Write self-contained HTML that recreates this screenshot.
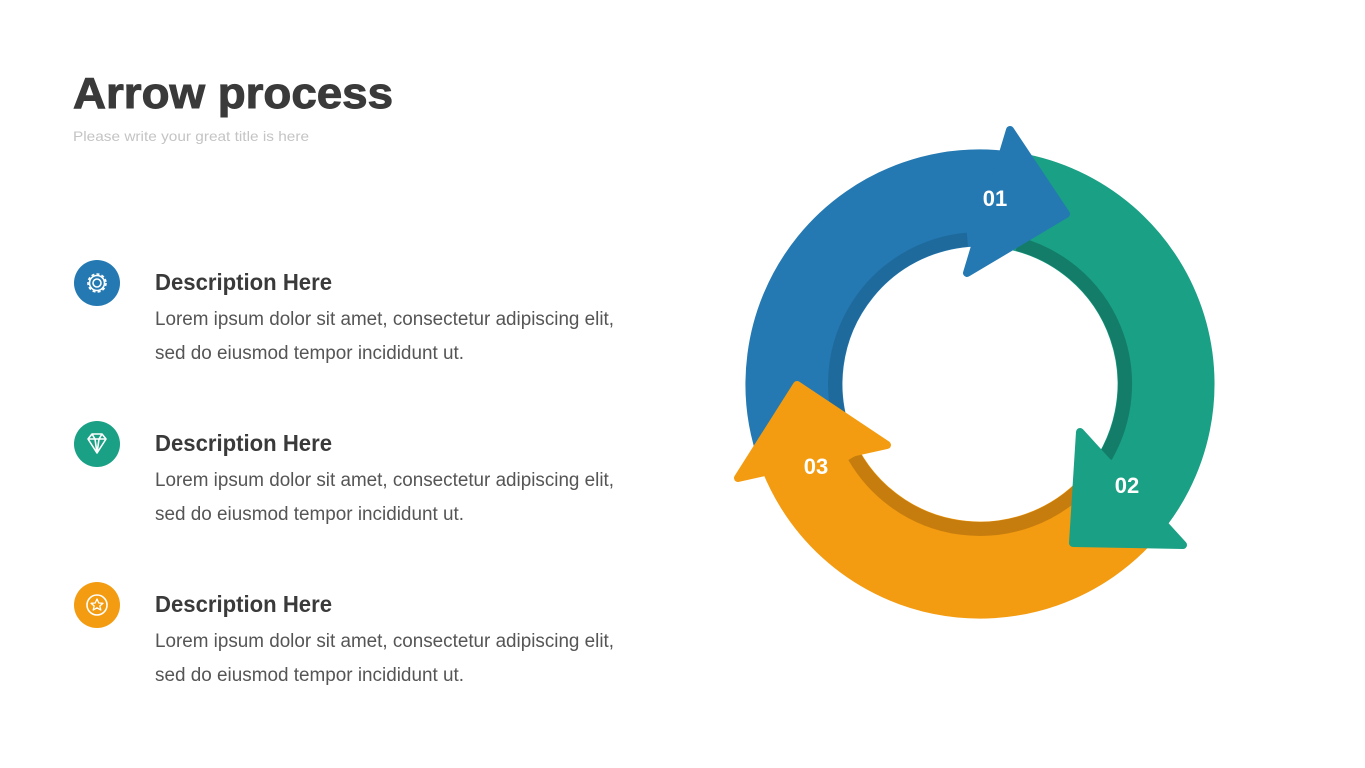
<!DOCTYPE html>
<html><head><meta charset="utf-8"><style>
html,body{margin:0;padding:0;background:#fff;}
svg{display:block;font-family:"Liberation Sans",sans-serif;}
</style></head><body>
<svg width="1365" height="768" viewBox="0 0 1365 768" xmlns="http://www.w3.org/2000/svg">
<rect width="1365" height="768" fill="#fff"/>
<text x="73" y="108" font-size="44" font-weight="bold" fill="#3a3a3a" stroke="#3a3a3a" stroke-width="1" textLength="320" lengthAdjust="spacingAndGlyphs">Arrow process</text>
<text x="73" y="141" font-size="14" fill="#c4c4c4" textLength="236" lengthAdjust="spacingAndGlyphs">Please write your great title is here</text>

<g>
<circle cx="97" cy="283" r="23" fill="#2479b2"/>
<g fill="none" stroke="#fff" stroke-width="1.6"><circle cx="97" cy="283" r="4"/><circle cx="97" cy="283" r="9" stroke-dasharray="3 2.2"/><circle cx="97" cy="283" r="7.5"/></g>
<text x="155" y="290" font-size="23" font-weight="bold" fill="#3a3a3a" textLength="177" lengthAdjust="spacingAndGlyphs">Description Here</text>
<text x="155" y="325" font-size="19" fill="#555" textLength="459" lengthAdjust="spacingAndGlyphs">Lorem ipsum dolor sit amet, consectetur adipiscing elit,</text>
<text x="155" y="359" font-size="19" fill="#555" textLength="309" lengthAdjust="spacingAndGlyphs">sed do eiusmod tempor incididunt ut.</text>
</g>
<g>
<circle cx="97" cy="444" r="23" fill="#1aa085"/>
<g fill="none" stroke="#fff" stroke-width="1.6" stroke-linejoin="round"><path d="M88 439 L92 434 L102 434 L106 439 L97 453 Z M88 439 H106 M92 434 L95 439 L97 453 L99 439 L102 434"/></g>
<text x="155" y="451" font-size="23" font-weight="bold" fill="#3a3a3a" textLength="177" lengthAdjust="spacingAndGlyphs">Description Here</text>
<text x="155" y="486" font-size="19" fill="#555" textLength="459" lengthAdjust="spacingAndGlyphs">Lorem ipsum dolor sit amet, consectetur adipiscing elit,</text>
<text x="155" y="520" font-size="19" fill="#555" textLength="309" lengthAdjust="spacingAndGlyphs">sed do eiusmod tempor incididunt ut.</text>
</g>
<g>
<circle cx="97" cy="605" r="23" fill="#f39c12"/>
<circle cx="97" cy="605" r="10" fill="none" stroke="#fff" stroke-width="1.6"/>
<path d="M97 599 L98.8 603 L103 603.3 L99.8 606 L100.8 610 L97 607.8 L93.2 610 L94.2 606 L91 603.3 L95.2 603 Z" fill="none" stroke="#fff" stroke-width="1.3" stroke-linejoin="round"/>
<text x="155" y="612" font-size="23" font-weight="bold" fill="#3a3a3a" textLength="177" lengthAdjust="spacingAndGlyphs">Description Here</text>
<text x="155" y="647" font-size="19" fill="#555" textLength="459" lengthAdjust="spacingAndGlyphs">Lorem ipsum dolor sit amet, consectetur adipiscing elit,</text>
<text x="155" y="681" font-size="19" fill="#555" textLength="309" lengthAdjust="spacingAndGlyphs">sed do eiusmod tempor incididunt ut.</text>
</g>

<!-- ring bodies -->
<g fill="none" stroke-width="97">
<path d="M1012.3 200.8 A186 186 0 0 1 1118.2 508.5" stroke="#1aa085"/>
<path d="M805.2 447.6 A186 186 0 0 1 1005.9 199.8" stroke="#2479b2"/>
<path d="M1122.5 503.6 A186 186 0 0 1 802.1 438.4" stroke="#f39c12"/>
</g>
<g fill="none" stroke-width="14">
<path d="M1017.5 243.9 A145 145 0 0 1 1105.6 456.5" stroke="#137d69"/>
<path d="M848.6 445.3 A145 145 0 0 1 967.4 239.6" stroke="#1f6a9c"/>
<path d="M1082.5 486.5 A145 145 0 0 1 854.4 456.5" stroke="#c77d0d"/>
</g>
<!-- heads -->
<g stroke-linejoin="round" stroke-width="8">
<polygon points="1010,130 1066,214 967,273" fill="#2479b2" stroke="#2479b2"/>
<polygon points="1080,432 1183,545 1073,543" fill="#1aa085" stroke="#1aa085"/>
<polygon points="797,385 887,445 738,478" fill="#f39c12" stroke="#f39c12"/>
</g>
<g font-size="22" font-weight="bold" fill="#fff" text-anchor="middle">
<text x="995" y="206">01</text>
<text x="1127" y="493">02</text>
<text x="816" y="474">03</text>
</g>
</svg>
</body></html>
